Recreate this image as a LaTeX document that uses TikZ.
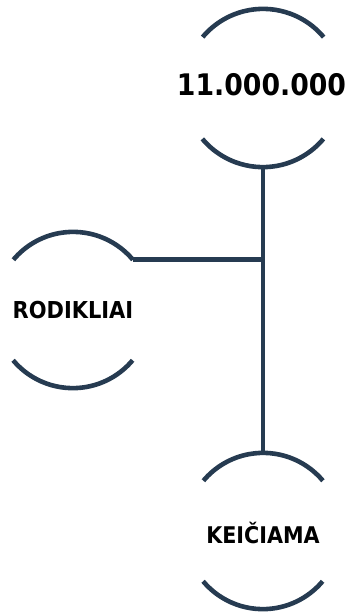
\documentclass[tikz,border=0pt]{standalone}
\usepackage{fontspec}
\setmainfont{DejaVu Sans Condensed}
\definecolor{navy}{HTML}{263B51}
\begin{document}
\begin{tikzpicture}[x=1pt,y=-1pt,
  ring/.style={circle,inner sep=0pt,minimum size=#1},
  arcline/.style={draw=navy,line width=4.6pt},
  lbl/.style={font=\bfseries\fontsize{#1}{#1}\selectfont,text=black,inner sep=0pt}]
\useasboundingbox (0,0) rectangle (352,613);
\node[ring=158pt] (top) at (263,88) {};
\node[ring=156pt] (left) at (73,310) {};
\node[ring=156pt] (bot) at (263,531) {};
\node[lbl=29.7] (ttop) at (261.5,85) {11.000.000};
\node[lbl=23.3] (tleft) at (73,310) {RODIKLIAI};
\node[lbl=23] (tbot) at (263,533) {KEIČIAMA};
\foreach \n/\r in {top/79,left/78,bot/78}{
  \draw[arcline] (\n.40) arc[start angle=-40,end angle=-140,radius=\r];
  \draw[arcline] (\n.220) arc[start angle=140,end angle=40,radius=\r];
}
\coordinate (junc) at (top.south |- left.40);
\draw[arcline] (top.south) -- (bot.north);
\draw[arcline] (left.40) -- (junc);
\end{tikzpicture}
\end{document}
